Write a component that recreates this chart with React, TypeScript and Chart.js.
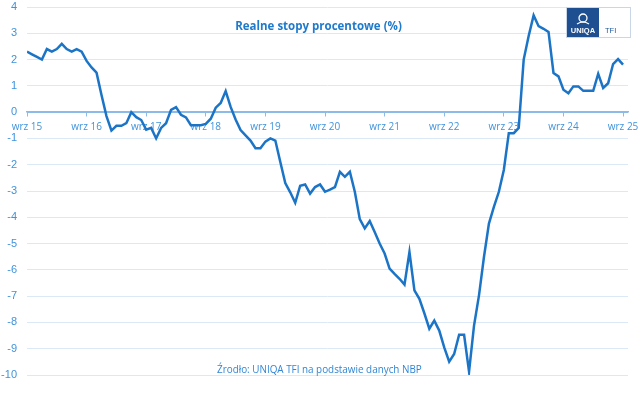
import React, { useEffect, useRef } from "react";
import { Chart, registerables } from "chart.js";

Chart.register(...registerables);

// Monthly real interest rate (%), Sep 2015 .. Sep 2025
const realRates: number[] = [
  2.3, 2.2, 2.1, 2.0, 2.4, 2.3, 2.4, 2.6, 2.4, 2.3, 2.4, 2.3,
  1.95, 1.7, 1.5, 0.65, -0.15, -0.7, -0.52, -0.52, -0.42, 0.0, -0.19, -0.3,
  -0.67, -0.6, -1.0, -0.6, -0.42, 0.09, 0.19, -0.1, -0.2, -0.5, -0.5, -0.5,
  -0.45, -0.25, 0.17, 0.35, 0.8, 0.2, -0.28, -0.68, -0.88, -1.08, -1.37, -1.37,
  -1.12, -1.0, -1.08, -1.9, -2.7, -3.05, -3.45, -2.8, -2.75, -3.1, -2.85, -2.75,
  -3.03, -2.95, -2.85, -2.27, -2.46, -2.27, -3.03, -4.07, -4.42, -4.14, -4.56, -5.0,
  -5.38, -5.95, -6.15, -6.34, -6.56, -5.32, -6.78, -7.1, -7.65, -8.24, -7.93, -8.31,
  -8.95, -9.49, -9.2, -8.47, -8.47, -9.87, -8.12, -6.97, -5.51, -4.24, -3.6, -3.03,
  -2.2, -0.8, -0.8, -0.6, 2.0, 2.9, 3.68, 3.27, 3.17, 3.05, 1.49, 1.36,
  0.85, 0.72, 0.98, 0.98, 0.81, 0.81, 0.81, 1.46, 0.92, 1.1, 1.83, 2.02,
  1.81,
];

const tickLabels: string[] = [
  "wrz 15", "wrz 16", "wrz 17", "wrz 18", "wrz 19", "wrz 20",
  "wrz 21", "wrz 22", "wrz 23", "wrz 24", "wrz 25",
];
const tickMonthIndex: number[] = [0, 12, 24, 36, 48, 60, 72, 84, 96, 108, 120];

const yMin = -10;
const yMax = 4;

const titleText = "Realne stopy procentowe (%)";
const sourceText = "Źrodło: UNIQA TFI na podstawie danych NBP";

const LINE = "#1b74c6";
const LABEL = "#3f93dc";
const GRID = "#dbe8f6";
const ZERO = "#8dbbe8";

export default function App() {
  const ref = useRef<HTMLCanvasElement | null>(null);

  useEffect(() => {
    if (!ref.current) return;
    const chart = new Chart(ref.current, {
      type: "line",
      data: {
        datasets: [
          {
            data: realRates.map((v, i) => ({ x: i, y: v })),
            borderColor: LINE,
            borderWidth: 2.5,
            pointRadius: 0,
            tension: 0,
            fill: false,
          },
        ],
      },
      options: {
        responsive: false,
        animation: false,
        events: [],
        layout: { padding: { left: 0, right: 11, top: 7, bottom: 18 } },
        plugins: {
          legend: { display: false },
          tooltip: { enabled: false },
          title: { display: false },
        },
        scales: {
          x: {
            type: "linear",
            min: 0,
            max: 121,
            position: { y: 0 } as any,
            afterBuildTicks: (axis: any) => {
              axis.ticks = tickMonthIndex.map((v) => ({ value: v }));
            },
            afterFit: (axis: any) => {
              axis.height = 0;
              axis.paddingLeft = 0;
              axis.paddingRight = 0;
            },
            ticks: {
              autoSkip: false,
              maxRotation: 0,
              padding: 5,
              color: LABEL,
              font: { family: "'Open Sans', sans-serif", size: 10 },
              callback: (_v: any, index: number) => tickLabels[index],
            },
            grid: {
              drawOnChartArea: false,
              drawTicks: true,
              tickLength: 4,
              color: ZERO,
              lineWidth: 1,
            },
            border: { display: true, color: ZERO, width: 1.5 },
          },
          y: {
            min: yMin,
            max: yMax,
            afterFit: (axis: any) => {
              axis.width = 27;
            },
            ticks: {
              stepSize: 1,
              padding: 0,
              color: LABEL,
              font: { family: "'Liberation Sans', Arial, sans-serif", size: 11 },
            },
            grid: {
              drawTicks: true,
              tickLength: 10,
              tickColor: "rgba(0,0,0,0)",
              color: (ctx: any) => (ctx.tick && ctx.tick.value === 0 ? ZERO : GRID),
              lineWidth: 1,
            },
            border: { display: false },
          },
        },
      },
    });
    return () => chart.destroy();
  }, []);

  return (
    <div
      style={{
        position: "absolute",
        left: 0,
        top: 0,
        width: 639,
        height: 393,
        background: "#ffffff",
        overflow: "hidden",
      }}
    >
      <canvas ref={ref} width={639} height={393} style={{ display: "block" }} />
      <div
        style={{
          position: "absolute",
          left: 0,
          width: 637,
          top: 18,
          textAlign: "center",
          fontFamily: "'Open Sans', sans-serif",
          fontWeight: 700,
          fontSize: 11.5,
          color: "#1f7acb",
          lineHeight: "16px",
          whiteSpace: "nowrap",
        }}
      >
        {titleText}
      </div>
      <div
        style={{
          position: "absolute",
          left: 217,
          top: 362,
          fontFamily: "'Open Sans', sans-serif",
          fontSize: 9.9,
          color: "#2f86d6",
          lineHeight: "14px",
          whiteSpace: "nowrap",
        }}
      >
        {sourceText}
      </div>
      <div
        style={{
          position: "absolute",
          left: 566,
          top: 7,
          width: 65,
          height: 31,
          display: "flex",
          boxSizing: "border-box",
          border: "1px solid #c9d6e8",
          background: "#ffffff",
        }}
      >
        <div
          style={{
            width: 32,
            height: "100%",
            background: "#1d4f91",
            position: "relative",
            color: "#ffffff",
            fontFamily: "'Liberation Sans', Arial, sans-serif",
            fontWeight: 700,
          }}
        >
          <svg
            width="14"
            height="12"
            viewBox="0 0 14 12"
            style={{ position: "absolute", left: 9, top: 5 }}
          >
            <circle cx="7" cy="5" r="4" fill="none" stroke="#ffffff" strokeWidth="1.3" />
            <path d="M1 11 Q7 7 13 11" fill="none" stroke="#ffffff" strokeWidth="1.2" />
          </svg>
          <div
            style={{
              position: "absolute",
              left: 0,
              width: 32,
              top: 18,
              textAlign: "center",
              fontSize: 7.5,
              lineHeight: "10px",
              letterSpacing: 0.1,
            }}
          >
            UNIQA
          </div>
        </div>
        <div
          style={{
            flex: 1,
            position: "relative",
            color: "#1d5a9e",
            fontFamily: "'Liberation Sans', Arial, sans-serif",
            fontSize: 7.5,
          }}
        >
          <div style={{ position: "absolute", left: 6, top: 18, lineHeight: "10px" }}>TFI</div>
        </div>
      </div>
    </div>
  );
}
